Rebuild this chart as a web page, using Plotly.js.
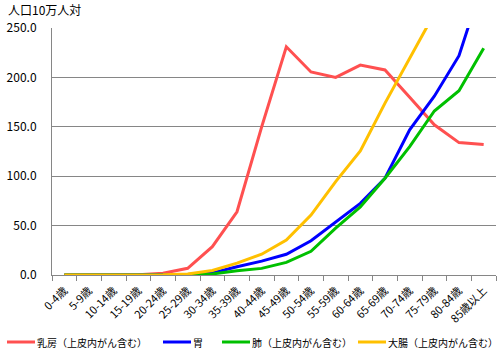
<!DOCTYPE html>
<html><head><meta charset="utf-8">
<script src="https://cdn.plot.ly/plotly-3.0.1.min.js"></script>
<style>html,body{margin:0;padding:0;background:#fff}#chart{width:500px;height:360px}</style>
</head><body><div id="chart"></div>
<script>
const categories = ["0-4歳","5-9歳","10-14歳","15-19歳","20-24歳","25-29歳","30-34歳","35-39歳","40-44歳","45-49歳","50-54歳","55-59歳","60-64歳","65-69歳","70-74歳","75-79歳","80-84歳","85歳以上"];
const seriesNames = ["乳房（上皮内がん含む）","胃","肺（上皮内がん含む）","大腸（上皮内がん含む）"];
const breast = [0,0,0,0.3,1.8,6.8,28.7,64,150,231,205.5,200,212.5,207.5,180,152,134,132];
const stomach = [0,0,0,0,0.1,0.5,2,8.4,14,21,34.7,54,72.5,98,147,181,222,299];
const lung = [0,0,0,0,0,0.3,1,4.4,6.7,12.8,24,47.5,69,98,130,166,186.5,229.5];
const colorectal = [0,0,0,0,0.2,1,4.5,12,21,35.4,60.7,94.5,125.5,174,220,267,310,350];
const colors = ["#FF5050","#0000FF","#00C000","#FFC000"];
const allSeries = [breast, stomach, lung, colorectal];
const font = "'Noto Sans CJK JP', 'Noto Sans', sans-serif";
const W = 500, H = 360, ML = 52, MR = 4, MT = 28, MB = 85;
const PW = W - ML - MR, PH = H - MT - MB;
const traces = allSeries.map((s,i)=>({
  x: categories, y: s, type:"scatter", mode:"lines", name: seriesNames[i],
  line:{color:colors[i], width:3}
}));
// manual legend (positions in pixels)
const legendX = [7, 163, 222, 358];
const legendY = 342;
const px = v => (v - ML) / PW;
const py = v => (H - MB - v) / PH;
const shapes = [], annotations = [];
seriesNames.forEach((n,i)=>{
  shapes.push({type:"line", xref:"paper", yref:"paper", x0:px(legendX[i]), x1:px(legendX[i]+28), y0:py(legendY), y1:py(legendY), line:{color:colors[i], width:3}});
  annotations.push({text:n, xref:"paper", yref:"paper", x:px(legendX[i]+28), y:py(legendY), xanchor:"left", yanchor:"middle", showarrow:false, font:{size:10}});
});
annotations.push({text:"人口10万人対", xref:"paper", yref:"paper", x:px(6), y:py(10), xanchor:"left", yanchor:"middle", showarrow:false, font:{size:12}});
const layout = {
  width:W, height:H,
  margin:{l:ML, r:MR, t:MT, b:MB, autoexpand:false},
  paper_bgcolor:"#fff", plot_bgcolor:"#fff",
  font:{family:font, size:11, color:"#000"},
  showlegend:false,
  xaxis:{type:"category", range:[-0.5,17.5], tickson:"boundaries", ticks:"outside", ticklen:5, tickcolor:"#868686",
    showline:true, linecolor:"#868686", linewidth:1, showgrid:false, tickangle:-45, tickfont:{size:11}, ticklabelstandoff:4, fixedrange:true, automargin:false},
  yaxis:{range:[0,250], dtick:50, tickformat:".1f", showgrid:true, gridcolor:"#868686", gridwidth:1,
    showline:true, linecolor:"#868686", ticks:"", zeroline:false, tickfont:{size:12}, ticklabelstandoff:12, fixedrange:true, automargin:false},
  shapes: shapes,
  annotations: annotations
};
Plotly.newPlot("chart", traces, layout, {displayModeBar:false, staticPlot:true});
</script></body></html>
